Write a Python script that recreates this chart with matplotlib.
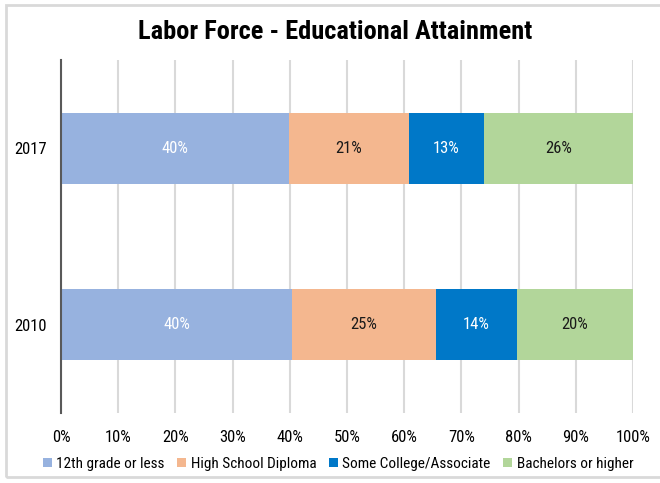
import numpy as np
import matplotlib.pyplot as plt
from matplotlib.patches import Rectangle

plt.rcParams["font.family"] = ["Roboto Condensed", "Liberation Sans", "DejaVu Sans"]

years = ["2017", "2010"]
categories = ["12th grade or less", "High School Diploma", "Some College/Associate", "Bachelors or higher"]
values_2017 = [39.9, 20.9, 13.1, 26.1]
values_2010 = [40.4, 25.2, 14.1, 20.3]
colors = ["#97B2DF", "#F4B78F", "#0078C8", "#B2D69A"]
label_colors = ["white", "#1a1a1a", "white", "#1a1a1a"]

data = np.array([values_2017, values_2010])
ypos = [1, 0]

fig = plt.figure(figsize=(6.6, 4.83), dpi=100)
ax = fig.add_axes([61 / 660, 1 - 413 / 483, 572 / 660, 353 / 483])

left = np.zeros(len(years))
for i in range(len(categories)):
    ax.barh(ypos, data[:, i], left=left, height=0.4, color=colors[i], label=categories[i], zorder=3)
    for j in range(len(years)):
        ax.text(left[j] + data[j, i] / 2, ypos[j], "%d%%" % round(data[j, i]),
                ha="center", va="center", fontsize=12, color=label_colors[i], zorder=4)
    left += data[:, i]

ax.set_xlim(0, 100)
ax.set_ylim(-0.5, 1.5)
ax.set_xticks(np.arange(0, 101, 10))
ax.set_xticklabels(["%d%%" % t for t in range(0, 101, 10)], fontsize=12)
ax.set_yticks(ypos)
ax.set_yticklabels(years, fontsize=12)
ax.tick_params(axis="x", length=0, pad=12)
ax.tick_params(axis="y", length=0, pad=10)
ax.xaxis.grid(True, color="#D9D9D9", linewidth=1.5, zorder=0)
for s in ["top", "right", "bottom"]:
    ax.spines[s].set_visible(False)
ax.spines["left"].set_color("#595959")
ax.spines["left"].set_linewidth(1.5)
ax.spines["left"].set_zorder(5)

fig.text(335 / 660, 1 - 32 / 483, "Labor Force - Educational Attainment",
         ha="center", va="center", fontsize=19, fontweight="bold")

fig.legend(loc="center", bbox_to_anchor=(338 / 660, 1 - 464 / 483), ncol=4, frameon=False,
           fontsize=11, handlelength=0.6, handleheight=0.6, handletextpad=0.3, columnspacing=0.8)

# outer frame
fig.patches.append(Rectangle((6 / 660, 1 - 477 / 483), 700 / 660, 472 / 483, transform=fig.transFigure,
                             fill=False, edgecolor="#D9D9D9", linewidth=2))

fig.savefig("out.png", dpi=100)
